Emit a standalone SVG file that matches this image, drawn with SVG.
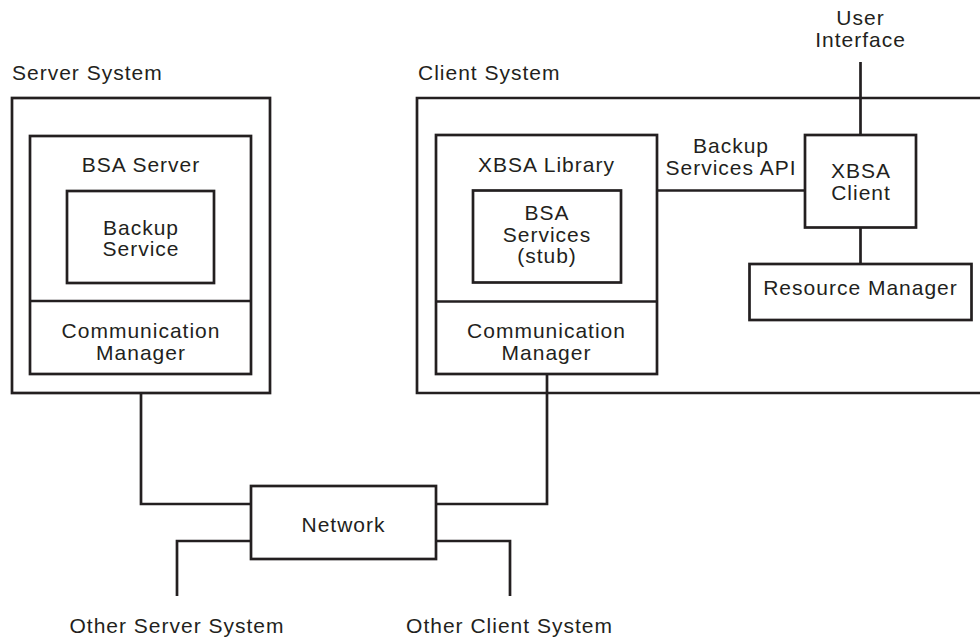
<svg xmlns="http://www.w3.org/2000/svg" width="980" height="639" viewBox="0 0 980 639">
  <style>
    .box { fill: none; stroke: #231f20; stroke-width: 2.7; }
    .wire { fill: none; stroke: #231f20; stroke-width: 2.7; stroke-linejoin: miter; }
    text { font-family: "Liberation Sans", Arial, Helvetica, sans-serif; font-size: 21px; letter-spacing: 1px; fill: #231f20; }
    .c { text-anchor: middle; }
  </style>
  <rect width="980" height="639" fill="#ffffff"/>

  <!-- links between components -->
  <g id="connectors">
    <path class="wire" d="M860.5 62 V135"/>
    <path class="wire" d="M860.5 227.5 V264"/>
    <path class="wire" d="M657 190.5 H805"/>
    <path class="wire" d="M141 393 V504 H251"/>
    <path class="wire" d="M547 374 V504 H436"/>
    <path class="wire" d="M251 541 H177 V596"/>
    <path class="wire" d="M436 541 H510 V596"/>
  </g>

  <g id="server-system">
    <rect class="box" x="12" y="98" width="258" height="295"/>
    <text x="12" y="80">Server System</text>
  </g>

  <g id="bsa-server">
    <rect class="box" x="30" y="136" width="221" height="238"/>
    <line class="box" x1="30" y1="301" x2="251" y2="301"/>
    <text class="c" x="141" y="171.5">BSA Server</text>
  </g>

  <g id="backup-service">
    <rect class="box" x="67" y="191" width="147" height="92"/>
    <text class="c" x="141" y="234.5">Backup</text>
    <text class="c" x="141" y="256">Service</text>
  </g>

  <g id="server-comm-manager">
    <text class="c" x="141" y="338">Communication</text>
    <text class="c" x="141" y="360">Manager</text>
  </g>

  <g id="client-system">
    <path class="box" d="M984 98 H417 V393 H984"/>
    <text x="418" y="80">Client System</text>
  </g>

  <g id="xbsa-library">
    <rect class="box" x="436" y="135" width="221" height="239"/>
    <line class="box" x1="436" y1="301.5" x2="657" y2="301.5"/>
    <text class="c" x="546.5" y="171.5">XBSA Library</text>
  </g>

  <g id="bsa-services-stub">
    <rect class="box" x="473" y="190.5" width="148" height="92"/>
    <text class="c" x="547" y="219.5">BSA</text>
    <text class="c" x="547" y="241.5">Services</text>
    <text class="c" x="547" y="263">(stub)</text>
  </g>

  <g id="client-comm-manager">
    <text class="c" x="546.5" y="338">Communication</text>
    <text class="c" x="546.5" y="360">Manager</text>
  </g>

  <g id="api-label">
    <text class="c" x="731" y="153">Backup</text>
    <text class="c" x="731" y="175">Services API</text>
  </g>

  <g id="user-interface">
    <text class="c" x="860.5" y="25">User</text>
    <text class="c" x="860.5" y="47">Interface</text>
  </g>

  <g id="xbsa-client">
    <rect class="box" x="805" y="135" width="111" height="92.5"/>
    <text class="c" x="861" y="178">XBSA</text>
    <text class="c" x="861" y="200">Client</text>
  </g>

  <g id="resource-manager">
    <rect class="box" x="749.5" y="264" width="222" height="56"/>
    <text class="c" x="860.5" y="295">Resource Manager</text>
  </g>

  <g id="network">
    <rect class="box" x="251" y="486" width="185" height="73"/>
    <text class="c" x="343.5" y="531.5">Network</text>
  </g>

  <g id="other-server-system">
    <text class="c" x="177" y="633">Other Server System</text>
  </g>

  <g id="other-client-system">
    <text class="c" x="509.5" y="633">Other Client System</text>
  </g>
</svg>
